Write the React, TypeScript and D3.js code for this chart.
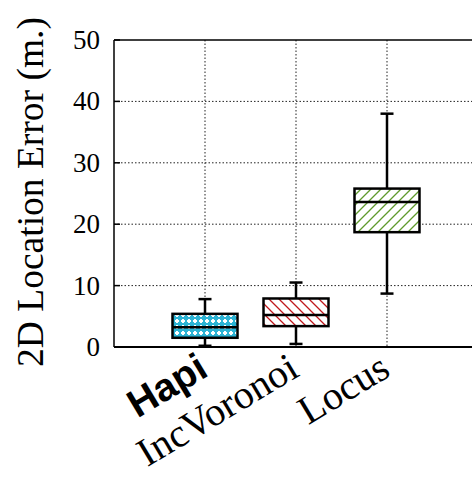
import React from "react";
import * as d3 from "d3";

const categories = ["Hapi", "IncVoronoi", "Locus"];
const whiskerLow = [0.2, 0.5, 8.7];
const quartile1 = [1.5, 3.4, 18.7];
const medians = [3.2, 5.2, 23.6];
const quartile3 = [5.4, 7.9, 25.8];
const whiskerHigh = [7.8, 10.5, 38.0];
const yTicks = [0, 10, 20, 30, 40, 50];
const fills = ["url(#dots)", "url(#redHatch)", "url(#greenHatch)"];

const W = 472;
const H = 477;
const left = 114;
const top = 40;
const bottom = 347;

const App = () => {
  const x = d3.scaleLinear().domain([0, 4]).range([left, left + 4 * 91]);
  const y = d3.scaleLinear().domain([0, 50]).range([bottom, top]);
  const boxW = 65;
  const capW = 13;

  return (
    <svg
      width={W}
      height={H}
      style={{ position: "absolute", left: 0, top: 0, background: "#fff" }}
    >
      <defs>
        <pattern id="dots" width="6" height="6" patternUnits="userSpaceOnUse">
          <rect width="6" height="6" fill="#2cb3d4" />
          <rect x="2" y="1" width="2" height="4" fill="#fff" />
          <rect x="1" y="2" width="4" height="2" fill="#fff" />
        </pattern>
        <pattern id="redHatch" width="10" height="10" patternUnits="userSpaceOnUse">
          <rect width="10" height="10" fill="#fff" />
          <path d="M0,0 L10,10 M-5,5 L5,15 M5,-5 L15,5" stroke="#c0181c" strokeWidth="1.3" />
        </pattern>
        <pattern id="greenHatch" width="10" height="10" patternUnits="userSpaceOnUse">
          <rect width="10" height="10" fill="#fff" />
          <path d="M0,10 L10,0 M-5,5 L5,-5 M5,15 L15,5" stroke="#5f9a2c" strokeWidth="1.3" />
        </pattern>
      </defs>

      {/* grid */}
      {yTicks.slice(1, -1).map((t) => (
        <line
          key={"h" + t}
          x1={left}
          x2={W}
          y1={y(t)}
          y2={y(t)}
          stroke="#222"
          strokeWidth={1}
          strokeDasharray="1.5,2"
        />
      ))}
      {categories.map((c, i) => (
        <line
          key={"v" + c}
          x1={x(i + 1)}
          x2={x(i + 1)}
          y1={top}
          y2={bottom}
          stroke="#222"
          strokeWidth={1}
          strokeDasharray="1.5,2"
        />
      ))}

      {/* frame */}
      <line x1={left} x2={W} y1={top} y2={top} stroke="#000" strokeWidth={1.5} />
      <line x1={left} x2={W} y1={bottom} y2={bottom} stroke="#000" strokeWidth={2} />
      <line x1={left} x2={left} y1={top} y2={bottom} stroke="#000" strokeWidth={1.5} />

      {/* y ticks */}
      {yTicks.map((t) => (
        <g key={"t" + t}>
          <line x1={left} x2={left + 6} y1={y(t)} y2={y(t)} stroke="#000" strokeWidth={1.5} />
          <text
            x={left - 14}
            y={y(t)}
            textAnchor="end"
            dominantBaseline="central"
            fontFamily="Liberation Serif, Times New Roman, serif"
            fontSize={27}
          >
            {t}
          </text>
        </g>
      ))}

      {/* boxes */}
      {categories.map((c, i) => {
        const cx = x(i + 1);
        return (
          <g key={c}>
            <line x1={cx} x2={cx} y1={y(whiskerHigh[i])} y2={y(quartile3[i])} stroke="#000" strokeWidth={2.5} />
            <line x1={cx} x2={cx} y1={y(quartile1[i])} y2={y(whiskerLow[i])} stroke="#000" strokeWidth={2.5} />
            <line x1={cx - capW / 2} x2={cx + capW / 2} y1={y(whiskerHigh[i])} y2={y(whiskerHigh[i])} stroke="#000" strokeWidth={2.5} />
            <line x1={cx - capW / 2} x2={cx + capW / 2} y1={y(whiskerLow[i])} y2={y(whiskerLow[i])} stroke="#000" strokeWidth={2.5} />
            <rect
              x={cx - boxW / 2}
              y={y(quartile3[i])}
              width={boxW}
              height={y(quartile1[i]) - y(quartile3[i])}
              fill={fills[i]}
              stroke="#000"
              strokeWidth={2.5}
            />
            <line x1={cx - boxW / 2} x2={cx + boxW / 2} y1={y(medians[i])} y2={y(medians[i])} stroke="#000" strokeWidth={2.5} />
          </g>
        );
      })}

      {/* x labels */}
      {categories.map((c, i) => (
        <text
          key={"l" + c}
          transform={`translate(${x(i + 1) + 5},${bottom + 28}) rotate(-31)`}
          textAnchor="end"
          fontFamily={i === 0 ? "Liberation Sans, Arial, sans-serif" : "Liberation Serif, Times New Roman, serif"}
          fontWeight={i === 0 ? "bold" : "normal"}
          fontSize={i === 0 ? 39 : 40}
        >
          {c}
        </text>
      ))}

      {/* y title */}
      <text
        transform={`translate(30,192) rotate(-90)`}
        textAnchor="middle"
        dominantBaseline="central"
        fontFamily="Liberation Serif, Times New Roman, serif"
        fontSize={37.5}
      >
        2D Location Error (m.)
      </text>
    </svg>
  );
};

export default App;
